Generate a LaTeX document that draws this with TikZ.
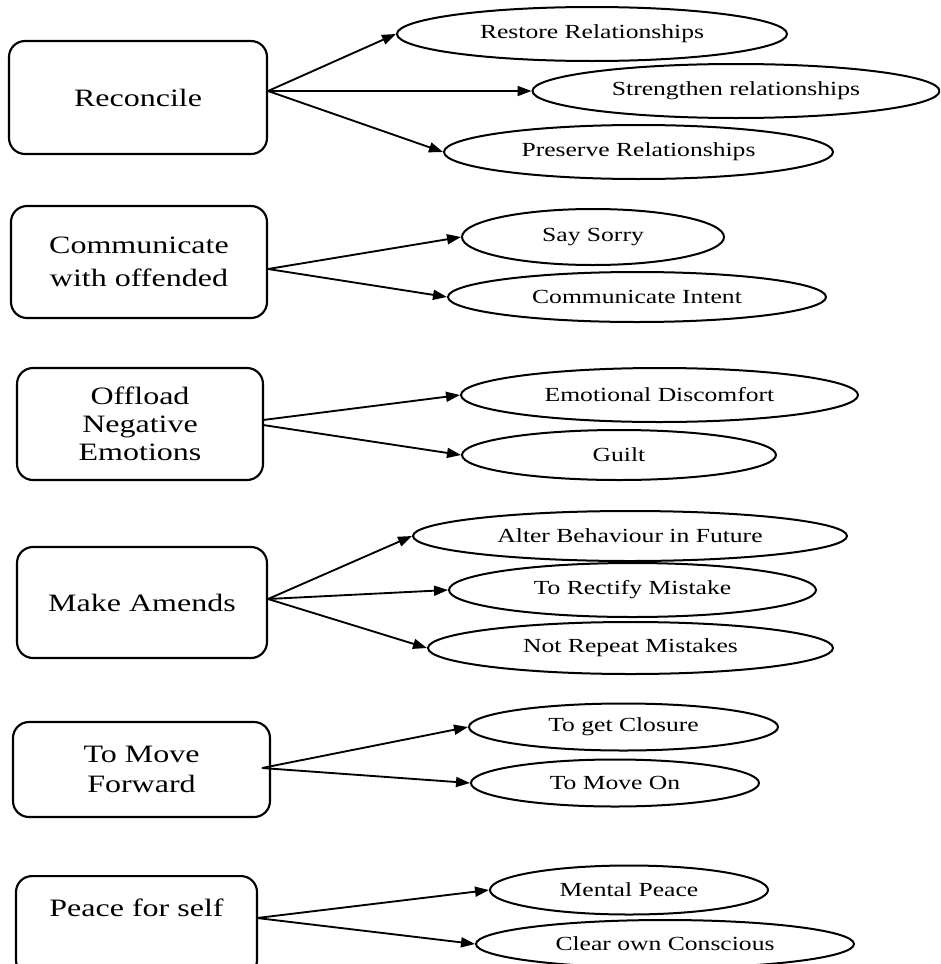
\documentclass[tikz,border=0pt]{standalone}
\usepackage{fontspec}
\setmainfont[FakeStretch=1.28]{Liberation Serif}
\usetikzlibrary{shapes.geometric,arrows.meta}
\def\u{0.75pt}
\tikzset{
  mainbox/.style={draw, line width=1.6pt, rounded corners=12pt, inner sep=0pt, align=center,
     font=\fontsize{18.75pt}{22pt}\selectfont},
  ell/.style={draw, ellipse, line width=1.5pt, inner sep=0pt,
     font=\fontsize{15pt}{18pt}\selectfont},
  conn/.style={line width=1.4pt, -{Triangle[length=10.5pt, width=7.5pt]}}
}
\begin{document}
\begin{tikzpicture}[x=0.75pt, y=-0.75pt]
\clip (0,0) rectangle (940,964);
% boxes
\node[mainbox, minimum width=258*\u, minimum height=113*\u] (b1) at (138,97.5) {Reconcile};
\node[mainbox, minimum width=256*\u, minimum height=112*\u, font=\fontsize{18.75pt}{25pt}\selectfont] (b2) at (139,262) {Communicate\\with offended};
\node[mainbox, minimum width=246*\u, minimum height=112*\u, font=\fontsize{18.75pt}{21pt}\selectfont] (b3) at (140,424) {Offload\\Negative\\Emotions};
\node[mainbox, minimum width=250*\u, minimum height=111*\u] (b4) at (142,602.5) {Make Amends};
\node[mainbox, minimum width=257*\u, minimum height=95*\u, font=\fontsize{18.75pt}{22pt}\selectfont] (b5) at (141.5,769.5) {To Move\\Forward};
\node[mainbox, minimum width=241*\u, anchor=north, inner ysep=5pt, text height=25pt, text depth=40pt] (b6) at (136.5,875) {Peace for self};
% ellipses
\node[ell, minimum width=390*\u, minimum height=54*\u] (e1) at (592,34) {Restore Relationships};
\node[ell, minimum width=407*\u, minimum height=54*\u] (e2) at (736,91) {Strengthen relationships};
\node[ell, minimum width=389*\u, minimum height=54*\u] (e3) at (638.5,152) {Preserve Relationships};
\node[ell, minimum width=262*\u, minimum height=56*\u] (e4) at (593,237) {Say Sorry};
\node[ell, minimum width=378*\u, minimum height=50*\u] (e5) at (637,297) {Communicate Intent};
\node[ell, minimum width=397*\u, minimum height=54*\u] (e6) at (659.5,395) {Emotional Discomfort};
\node[ell, minimum width=314*\u, minimum height=50*\u] (e7) at (619,455) {Guilt};
\node[ell, minimum width=434*\u, minimum height=50*\u] (e8) at (630,536) {Alter Behaviour in Future};
\node[ell, minimum width=367*\u, minimum height=54*\u] (e9) at (632.5,590) {To Rectify Mistake};
\node[ell, minimum width=405*\u, minimum height=52*\u] (e10) at (630.5,648) {Not Repeat Mistakes};
\node[ell, minimum width=309*\u, minimum height=47*\u] (e11) at (623.5,727) {To get Closure};
\node[ell, minimum width=288*\u, minimum height=47*\u] (e12) at (615,783) {To Move On};
\node[ell, minimum width=278*\u, minimum height=49*\u] (e13) at (629,890) {Mental Peace};
\node[ell, minimum width=378*\u, minimum height=48*\u] (e14) at (665,944) {Clear own Conscious};
% start points
\coordinate (s1) at (268,91);
\coordinate (s2) at (268,269);
\coordinate (s3a) at (263,420);
\coordinate (s3b) at (263,425);
\coordinate (s4) at (268,599);
\coordinate (s5) at (262,768);
\coordinate (s6) at (257,918);
% connectors
\draw[conn] (s1) -- (e1.west);
\draw[conn] (s1) -- (e2.west);
\draw[conn] (s1) -- (e3.west);
\draw[conn] (s2) -- (e4.west);
\draw[conn] (s2) -- (e5.west);
\draw[conn] (s3a) -- (e6.west);
\draw[conn] (s3b) -- (e7.west);
\draw[conn] (s4) -- (e8.west);
\draw[conn] (s4) -- (e9.west);
\draw[conn] (s4) -- (e10.west);
\draw[conn] (s5) -- (e11.west);
\draw[conn] (s5) -- (e12.west);
\draw[conn] (s6) -- (e13.west);
\draw[conn] (s6) -- (e14.west);
\end{tikzpicture}
\end{document}
